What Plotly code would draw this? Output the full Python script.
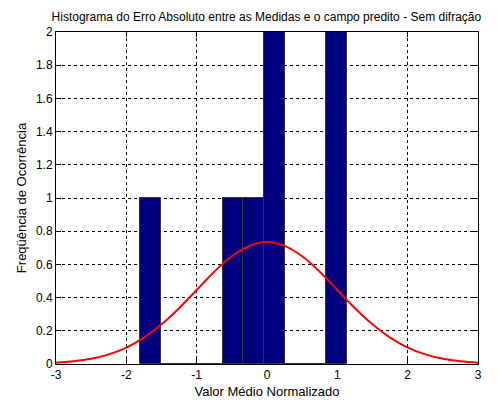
import plotly.graph_objects as go

# Histogram data (bin centers and counts)
bin_centers = [-1.659, -1.365, -1.071, -0.777, -0.483, -0.189, 0.105, 0.399, 0.693, 0.987]
counts = [1, 0, 0, 0, 1, 1, 2, 0, 0, 2]

# Red fitted curve
curve_x = [-3.0, -2.75, -2.5, -2.25, -2.0, -1.75, -1.5, -1.25, -1.0, -0.75, -0.5, -0.25,
           0.0, 0.25, 0.5, 0.75, 1.0, 1.25, 1.5, 1.75, 2.0, 2.25, 2.5, 2.75, 3.0]
curve_y = [0.008, 0.017, 0.032, 0.058, 0.099, 0.159, 0.239, 0.336, 0.446, 0.556, 0.649, 0.712,
           0.735, 0.712, 0.649, 0.556, 0.446, 0.336, 0.239, 0.159, 0.099, 0.058, 0.032, 0.017, 0.008]

x_ticks = [-3, -2, -1, 0, 1, 2, 3]
y_ticks = [0, 0.2, 0.4, 0.6, 0.8, 1, 1.2, 1.4, 1.6, 1.8, 2]
y_tick_labels = ["0", "0.2", "0.4", "0.6", "0.8", "1", "1.2", "1.4", "1.6", "1.8", "2"]

title = "Histograma do Erro Absoluto entre as Medidas e o campo predito - Sem difração"
x_title = "Valor Médio Normalizado"
y_title = "Freqüência de Ocorrência"

bin_width = bin_centers[1] - bin_centers[0]
font_family = "Liberation Sans, Arial, sans-serif"

fig = go.Figure()
fig.add_trace(go.Bar(
    x=bin_centers, y=counts, width=bin_width,
    marker=dict(color="#000080", line=dict(color="#333333", width=1)),
    showlegend=False,
))
fig.add_trace(go.Scatter(
    x=curve_x, y=curve_y, mode="lines",
    line=dict(color="#ff0000", width=2, shape="spline"),
    showlegend=False,
))

axis_common = dict(
    showline=True, linecolor="black", linewidth=1, mirror="ticks",
    ticks="inside", ticklen=5, tickcolor="black",
    showgrid=True, gridcolor="black", gridwidth=1, griddash="3px,3px",
    zeroline=False, automargin=False,
    tickfont=dict(family=font_family, size=12, color="black"),
)

fig.update_layout(
    width=497, height=403,
    margin=dict(l=56, r=19, t=32, b=39),
    paper_bgcolor="white", plot_bgcolor="white",
    bargap=0,
    title=dict(text=title, x=0.536, xanchor="center", y=1 - 17 / 403, yanchor="middle",
               font=dict(family=font_family, size=12, color="black")),
    xaxis=dict(range=[-3, 3], tickvals=x_ticks, ticktext=[str(v) for v in x_ticks],
               ticklabelstandoff=0,
               title=dict(text=x_title, standoff=5,
                          font=dict(family=font_family, size=13, color="black")),
               **axis_common),
    yaxis=dict(range=[0, 2], tickvals=y_ticks, ticktext=y_tick_labels,
               title=dict(text=y_title, standoff=6,
                          font=dict(family=font_family, size=13, color="black")),
               **axis_common),
)

fig.write_html("out.html")
